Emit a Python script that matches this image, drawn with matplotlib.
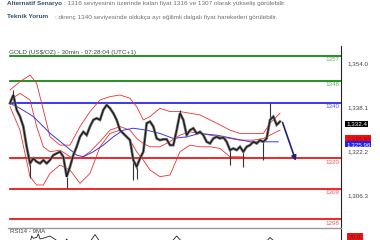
import matplotlib
matplotlib.use("Agg")
import matplotlib.pyplot as plt

plt.rcParams['font.family'] = ['Liberation Sans', 'DejaVu Sans']

# price (close) every bar step
close = [1339.8, 1342.8, 1337.4, 1335.0, 1331.4, 1324.1, 1318.1, 1319.9, 1318.7, 1318.1,
         1319.3, 1318.1, 1319.3, 1321.1, 1321.7, 1322.3, 1320.5, 1313.3, 1316.9, 1321.1,
         1324.1, 1327.7, 1329.5, 1328.3, 1331.4, 1333.8, 1334.4, 1333.8, 1337.4, 1339.2,
         1338.0, 1336.2, 1333.8, 1330.1, 1328.9, 1327.7, 1326.5, 1319.3, 1316.9, 1319.9,
         1322.3, 1332.6, 1333.2, 1331.4, 1327.1, 1326.5, 1326.8, 1326.8, 1324.7, 1324.7,
         1330.1, 1336.2, 1333.8, 1328.3, 1330.1, 1330.8, 1328.9, 1329.5, 1328.3, 1325.9,
         1325.3, 1327.1, 1327.7, 1327.1, 1327.5, 1325.9, 1322.9, 1323.5, 1322.9, 1324.1,
         1322.3, 1324.1, 1324.7, 1325.9, 1325.3, 1326.5, 1325.9, 1327.1, 1333.8, 1335.0,
         1332.0, 1333.2]
bars = list(range(len(close)))

# long wicks
wick_idx = [1, 6, 17, 37, 38, 51, 66, 70, 76, 78]
wick_val = [1344.6, 1312.7, 1309.1, 1312.1, 1312.6, 1337.4, 1317.5, 1316.9, 1319.3, 1339.8]

# bollinger bands / moving averages (bar index, price)
band_x = [0, 3, 6, 8, 10, 12, 15, 18, 21, 24, 27, 30, 33, 36, 38, 40, 42, 45, 48, 51,
          54, 57, 60, 63, 66, 69, 73, 76, 78, 81]
upper = [1344.6, 1347.6, 1350.0, 1347.0, 1337.4, 1327.7, 1324.7, 1324.7, 1331.4, 1336.8,
         1341.0, 1342.2, 1342.8, 1341.6, 1338.6, 1333.8, 1335.0, 1338.0, 1336.8, 1336.8,
         1336.2, 1335.6, 1333.8, 1332.0, 1330.1, 1328.9, 1328.9, 1328.9, 1332.6, 1336.2]
lower = [1338.6, 1330.1, 1313.3, 1310.3, 1310.3, 1314.5, 1317.5, 1315.7, 1310.9, 1314.5,
         1324.1, 1328.9, 1330.1, 1326.5, 1322.3, 1319.3, 1315.7, 1313.3, 1313.9, 1322.3,
         1324.7, 1324.1, 1324.1, 1323.5, 1320.5, 1320.5, 1320.0, 1320.0, 1320.2, 1320.3]
inner = [1341.0, 1343.4, 1341.0, 1331.4, 1324.1, 1322.3, 1322.9, 1320.5, 1319.9, 1322.3,
         1326.0, 1330.1, 1331.4, 1330.1, 1327.1, 1325.3, 1324.1, 1324.1, 1326.0, 1328.3,
         1329.5, 1328.9, 1328.3, 1327.7, 1327.1, 1326.5, 1326.5, 1327.1, 1328.3, 1330.1]
ma_x = [0, 3, 7, 12, 17, 20, 22, 25, 28, 31, 34, 37, 41, 45, 49, 53, 57, 62, 67, 72, 77, 80.5]
ma = [1339.8, 1338.0, 1335.0, 1329.0, 1324.1, 1321.1, 1320.5, 1322.3, 1324.7, 1327.7,
      1330.1, 1330.8, 1330.1, 1328.9, 1327.1, 1327.7, 1328.9, 1328.3, 1327.1, 1325.9,
      1325.9, 1325.9]

# support / resistance levels
levels = [1357, 1348, 1340, 1320, 1309, 1298]
level_colors = ['#138a13', '#138a13', '#2b2bf0', '#f01515', '#f01515', '#f01515']
label_colors = ['#6aaa6a', '#6aaa6a', '#5560d8', '#e06060', '#e06060', '#e06060']

right_ticks = [1354.0, 1338.1, 1322.2, 1306.3]

# forecast arrow
arrow_x = [81.5, 86]
arrow_y = [1333.8, 1318.1]

# current value boxes
box_vals = [1332.4, 1327.1, 1325.0]
box_text = ['1,332.4', '1,328.84', '1,325.96']
box_colors = ['black', '#f01010', '#2020f0']
box_text_colors = ['white', '#b00000', 'white']

# RSI peaks (bar index, value)
rsi_x = [0, 3, 6, 6.5, 7, 8, 8.5, 9, 10, 12, 15, 16, 17, 18, 20, 24, 25.5, 27, 30, 40, 48, 50, 52, 60, 76, 78, 80]
rsi = [60, 62, 64, 74, 71, 72, 77, 70, 71, 74, 65, 60, 70, 62, 64, 66, 76, 66, 62, 60, 64, 74, 64, 60, 62, 72, 64]

W, H = 380, 240
fig = plt.figure(figsize=(W / 100, H / 100), dpi=100)

def fx(px):
    return px / W

def fy(py):
    return 1 - py / H

# header text
fig.text(fx(7), fy(3), 'Alternatif Senaryo', fontsize=4.6, fontweight='bold',
         color='#34506c', va='center')
fig.text(fx(64), fy(3), ': 1316 seviyesinin üzerinde kalan fiyat 1316 ve 1307 olarak yükseliş görülebilir.',
         fontsize=4.6, color='#707070', va='center')
fig.text(fx(7), fy(17), 'Teknik Yorum', fontsize=4.6, fontweight='bold',
         color='#34506c', va='center')
fig.text(fx(55), fy(17), ': direnç 1340 seviyesinde oldukça ayı eğilimli dalgalı fiyat hareketleri görülebilir.',
         fontsize=4.6, color='#707070', va='center')

# main price panel
ax = fig.add_axes([fx(8), fy(227), fx(341) - fx(8), fy(46) - fy(227)])
ax.set_xlim(-0.6, 99.3)
ax.set_ylim(1295.14, 1360.48)
for s in ['left', 'top', 'bottom']:
    ax.spines[s].set_visible(False)
ax.spines['right'].set_color('#222222')
ax.spines['right'].set_linewidth(0.8)
ax.set_xticks([])
ax.set_yticks([])

for lv, c in zip(levels, level_colors):
    ax.axhline(lv, color=c, lw=1.3, xmin=0.006, zorder=1)
for lv, c in zip(levels, label_colors):
    ax.text(98.8, lv - 0.6, str(lv), color=c, fontsize=4.5, ha='right', va='top')

ax.plot(band_x, upper, color='#ee3030', lw=0.6, zorder=2)
ax.plot(band_x, lower, color='#ee3030', lw=0.6, zorder=2)
ax.plot(band_x, inner, color='#ee3030', lw=0.6, zorder=2)
ax.plot(ma_x, ma, color='#3a3ae0', lw=0.7, zorder=2)

ax.vlines([bars[i] for i in wick_idx], [close[i] for i in wick_idx], wick_val,
          color='#333333', lw=0.8, zorder=3)
ax.plot(bars, close, color='#7a7a7a', lw=2.0, zorder=3, solid_joinstyle='miter')
ax.plot(bars, close, color='#1a1a1a', lw=0.9, zorder=3)

ax.annotate('', xy=(arrow_x[1], arrow_y[1]), xytext=(arrow_x[0], arrow_y[0]),
            arrowprops=dict(arrowstyle='-|>', color='#20207a', lw=1.2,
                            mutation_scale=7), zorder=4)

ax.text(0.003, 0.965, 'GOLD (US$/OZ) - 30min - 07:28:04 (UTC+1)', transform=ax.transAxes,
        fontsize=4.6, color='#444444', va='center')

for t in right_ticks:
    ax.text(101.2, t, f'{t:,.1f}', fontsize=4.5, color='#444444', va='center', clip_on=False)

for v, t, c, tc in zip(box_vals, box_text, box_colors, box_text_colors):
    ax.text(100.8, v, t, fontsize=4.5, color=tc, va='center', clip_on=False,
            bbox=dict(boxstyle='square,pad=0.1', fc=c, ec='none'))

# RSI panel
rx = fig.add_axes([fx(8), fy(290), fx(341) - fx(8), fy(228) - fy(290)])
rx.set_xlim(-0.6, 99.3)
rx.set_ylim(0, 85)
rx.spines['left'].set_visible(False)
rx.spines['bottom'].set_visible(False)
rx.spines['top'].set_color('#999999')
rx.spines['top'].set_linewidth(1.0)
rx.spines['right'].set_color('#222222')
rx.spines['right'].set_linewidth(0.8)
rx.set_xticks([])
rx.set_yticks([])
rx.plot(rsi_x, rsi, color='#222222', lw=0.6)
rx.text(0.003, 85 - 4.5, 'RSI14 - 9MA', fontsize=4.4, color='#444444', va='center')
rx.text(101.6, 71.5, '70.0', fontsize=4.5, color='#333333', va='center', clip_on=False,
        bbox=dict(boxstyle='square,pad=0.3', fc='#f01010', ec='none'))

fig.savefig('out.png', dpi=100)
